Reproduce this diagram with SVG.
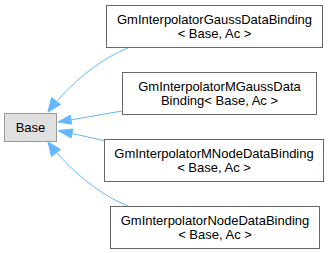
<svg xmlns="http://www.w3.org/2000/svg" width="330" height="253" viewBox="0 0 330 253">
<style>
.node rect{fill:#ffffff;stroke:#666666;stroke-width:1}
.base rect{fill:#e0e0e0;stroke:#999999;stroke-width:1}
text{font-family:"Liberation Sans",Arial,sans-serif;font-size:13px;fill:#000000;text-anchor:middle}
.edges path{fill:none;stroke:#63b8ff;stroke-width:1}
.edges polygon{fill:#63b8ff;stroke:#63b8ff;stroke-width:1}
</style>
<rect width="330" height="253" fill="#ffffff"/>
<g class="edges" id="connectors">
<path d="M128,48 C106,57 82,73 57,101"/>
<polygon points="48,112 51.5,97.5 60.5,104.5"/>
<path d="M122,111 L71,119.8"/>
<polygon points="58,122 70.2,115.3 71.8,124.1"/>
<path d="M104,140.5 L72,133.5"/>
<polygon points="58,130.5 72.8,129 71.2,138"/>
<path d="M128,206 C106,197 82,181 57,153"/>
<polygon points="48,142 51.5,156.5 60.5,149.5"/>
</g>
<g id="node-base" class="base">
<rect x="4.5" y="113.5" width="52" height="28"/>
<text x="30.5" y="131.5">Base</text>
</g>
<g id="node-gauss" class="node">
<rect x="106.5" y="5.5" width="216" height="42"/>
<text x="214.5" y="24">GmInterpolatorGaussDataBinding</text>
<text x="214.5" y="38">&lt; Base, Ac &gt;</text>
</g>
<g id="node-mgauss" class="node">
<rect x="122.5" y="72.5" width="194" height="42"/>
<text x="219.5" y="91">GmInterpolatorMGaussData</text>
<text x="219.5" y="105">Binding&lt; Base, Ac &gt;</text>
</g>
<g id="node-mnode" class="node">
<rect x="104.5" y="139.5" width="219" height="42"/>
<text x="214" y="158">GmInterpolatorMNodeDataBinding</text>
<text x="214" y="172">&lt; Base, Ac &gt;</text>
</g>
<g id="node-node" class="node">
<rect x="110.5" y="206.5" width="209" height="42"/>
<text x="215" y="225">GmInterpolatorNodeDataBinding</text>
<text x="215" y="239">&lt; Base, Ac &gt;</text>
</g>
</svg>
